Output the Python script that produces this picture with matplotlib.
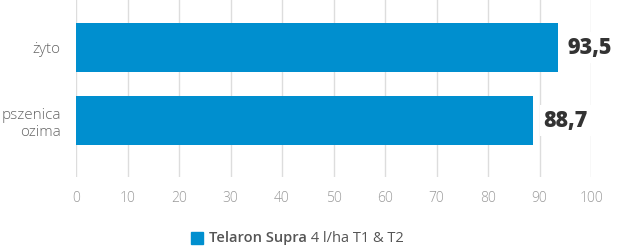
import matplotlib.pyplot as plt
from matplotlib.patches import Rectangle

# data
categories = ["żyto", "pszenica\nozima"]
values = [93.5, 88.7]
value_labels = ["93,5", "88,7"]
x_ticks = [0, 10, 20, 30, 40, 50, 60, 70, 80, 90, 100]
series_name = "Telaron Supra"
series_detail = " 4 l/ha T1 & T2"

blue = "#008fcf"
plt.rcParams["font.family"] = ["Open Sans", "DejaVu Sans"]

fig = plt.figure(figsize=(6.2, 2.47), dpi=100)
ax = fig.add_axes([76 / 620, 70 / 247, 515 / 620, 177 / 247])

pos = list(range(len(categories)))
ax.barh(pos, values, height=0.67, color=blue, zorder=2)

for p, v, lab in zip(pos, values, value_labels):
    ax.annotate(lab, xy=(v, p), xytext=(7.5, 0), textcoords="offset points",
                ha="left", va="center", fontsize=15.5, fontweight="heavy",
                color="#333333", zorder=3,
                bbox=dict(boxstyle="square,pad=0.15", fc="white", ec="none"))

ax.set_xlim(0, 100)
ax.set_ylim(1.77, -0.65)
ax.set_xticks(x_ticks)
ax.set_yticks(pos)
ax.set_yticklabels(categories, fontsize=11, color="#666666", fontweight="light",
                   linespacing=1.25)
ax.tick_params(axis="x", length=0, pad=10, labelsize=10, labelcolor="#999999")
ax.tick_params(axis="y", length=0, pad=11)
for lbl in ax.get_xticklabels():
    lbl.set_fontweight("light")

ax.grid(axis="x", color="#dddddd", linewidth=1, zorder=0)
ax.axvline(0, color="#c8c8c8", linewidth=1.2, zorder=1)
for s in ax.spines.values():
    s.set_visible(False)

# legend: blue square, bold series name, regular detail
fig.patches.append(Rectangle((191 / 620, 1 - 244 / 247), 12 / 620, 12 / 247,
                             transform=fig.transFigure, color=blue))
t1 = fig.text(209 / 620, 1 - 238 / 247, series_name, fontsize=10.5,
              fontweight="semibold", color="#555555", va="center", ha="left")
fig.canvas.draw()
ax.annotate(series_detail, xy=(1, 0.5), xycoords=t1, ha="left", va="center",
            fontsize=10.5, color="#555555", annotation_clip=False)

fig.savefig("out.png", dpi=100)
